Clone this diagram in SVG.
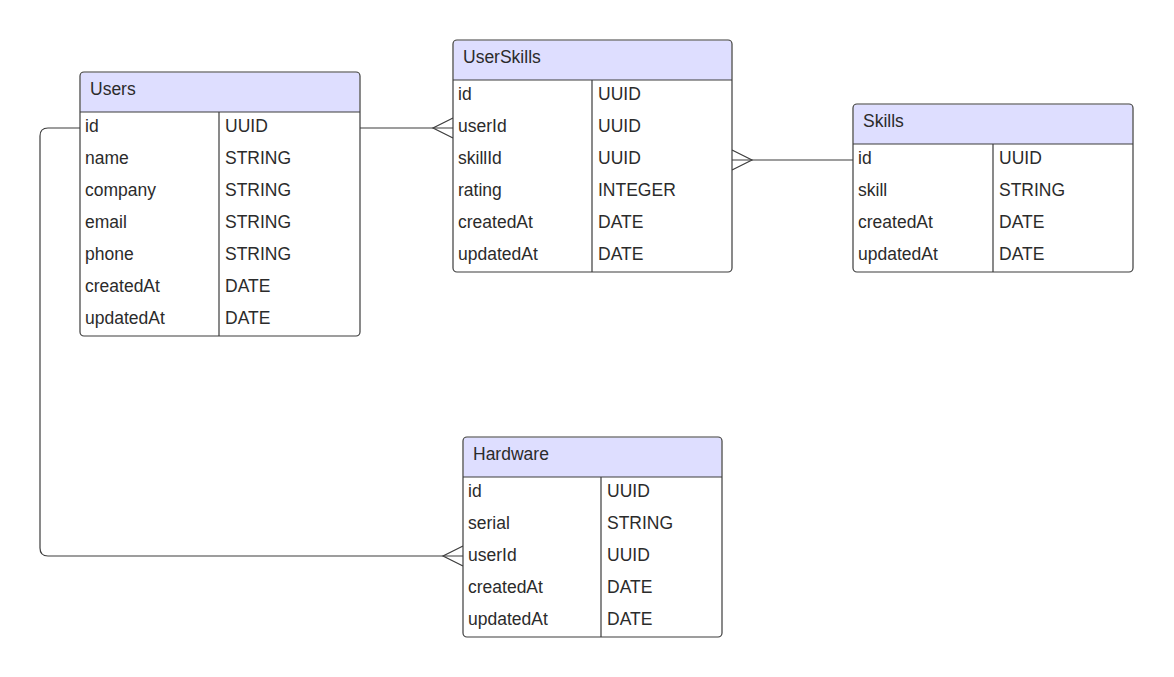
<svg xmlns="http://www.w3.org/2000/svg" width="1174" height="677" viewBox="0 0 1174 677">
  <style>
    .box { fill: none; stroke: #3d3d3d; stroke-width: 1.2; }
    .back { fill: #ffffff; }
    .head { fill: #dedeff; }
    .sep { stroke: #3d3d3d; stroke-width: 1.2; fill: none; }
    .title { font-family: "Liberation Sans", Arial, sans-serif; font-size: 17.5px; fill: #2b2b2b; }
    .cell { font-family: "Liberation Sans", Arial, sans-serif; font-size: 17.5px; fill: #2b2b2b; }
    .conn { stroke: #3d3d3d; stroke-width: 1.2; fill: none; }
  </style>
  <rect width="1174" height="677" fill="#ffffff"/>

  <!-- relationships -->
  <g id="connectors">
    <!-- Users.id to UserSkills.userId -->
    <path class="conn" d="M360 128 H453"/>
    <path class="conn" d="M453 118 L433 128 L453 138"/>
    <!-- Skills.id to UserSkills.skillId -->
    <path class="conn" d="M853 160 H732"/>
    <path class="conn" d="M732 150 L752 160 L732 170"/>
    <!-- Users.id to Hardware.userId -->
    <path class="conn" d="M80 128 H48 Q40 128 40 136 V548 Q40 556 48 556 H463"/>
    <path class="conn" d="M463 546 L443 556 L463 566"/>
  </g>

  <!-- Users -->
  <g id="users">
    <rect class="back" x="80" y="72" width="280" height="264" rx="4"/>
    <path class="head" d="M84 72.6 H356 Q359.4 72.6 359.4 76 V112 H80.6 V76 Q80.6 72.6 84 72.6 Z"/>
    <rect class="box" x="80" y="72" width="280" height="264" rx="4"/>
    <path class="sep" d="M80 112 H360 M219 112 V336"/>
    <text class="title" x="90" y="95">Users</text>
    <text class="cell" x="85" y="132">id</text><text class="cell" x="225" y="132">UUID</text>
    <text class="cell" x="85" y="164">name</text><text class="cell" x="225" y="164">STRING</text>
    <text class="cell" x="85" y="196">company</text><text class="cell" x="225" y="196">STRING</text>
    <text class="cell" x="85" y="228">email</text><text class="cell" x="225" y="228">STRING</text>
    <text class="cell" x="85" y="260">phone</text><text class="cell" x="225" y="260">STRING</text>
    <text class="cell" x="85" y="292">createdAt</text><text class="cell" x="225" y="292">DATE</text>
    <text class="cell" x="85" y="324">updatedAt</text><text class="cell" x="225" y="324">DATE</text>
  </g>

  <!-- UserSkills -->
  <g id="userskills">
    <rect class="back" x="453" y="40" width="279" height="232" rx="4"/>
    <path class="head" d="M457 40.6 H728 Q731.4 40.6 731.4 44 V80 H453.6 V44 Q453.6 40.6 457 40.6 Z"/>
    <rect class="box" x="453" y="40" width="279" height="232" rx="4"/>
    <path class="sep" d="M453 80 H732 M592 80 V272"/>
    <text class="title" x="463" y="63">UserSkills</text>
    <text class="cell" x="458" y="100">id</text><text class="cell" x="598" y="100">UUID</text>
    <text class="cell" x="458" y="132">userId</text><text class="cell" x="598" y="132">UUID</text>
    <text class="cell" x="458" y="164">skillId</text><text class="cell" x="598" y="164">UUID</text>
    <text class="cell" x="458" y="196">rating</text><text class="cell" x="598" y="196">INTEGER</text>
    <text class="cell" x="458" y="228">createdAt</text><text class="cell" x="598" y="228">DATE</text>
    <text class="cell" x="458" y="260">updatedAt</text><text class="cell" x="598" y="260">DATE</text>
  </g>

  <!-- Skills -->
  <g id="skills">
    <rect class="back" x="853" y="104" width="280" height="168" rx="4"/>
    <path class="head" d="M857 104.6 H1129 Q1132.4 104.6 1132.4 108 V144 H853.6 V108 Q853.6 104.6 857 104.6 Z"/>
    <rect class="box" x="853" y="104" width="280" height="168" rx="4"/>
    <path class="sep" d="M853 144 H1133 M993 144 V272"/>
    <text class="title" x="863" y="127">Skills</text>
    <text class="cell" x="858" y="164">id</text><text class="cell" x="999" y="164">UUID</text>
    <text class="cell" x="858" y="196">skill</text><text class="cell" x="999" y="196">STRING</text>
    <text class="cell" x="858" y="228">createdAt</text><text class="cell" x="999" y="228">DATE</text>
    <text class="cell" x="858" y="260">updatedAt</text><text class="cell" x="999" y="260">DATE</text>
  </g>

  <!-- Hardware -->
  <g id="hardware">
    <rect class="back" x="463" y="437" width="259" height="200" rx="4"/>
    <path class="head" d="M467 437.6 H718 Q721.4 437.6 721.4 441 V477 H463.6 V441 Q463.6 437.6 467 437.6 Z"/>
    <rect class="box" x="463" y="437" width="259" height="200" rx="4"/>
    <path class="sep" d="M463 477 H722 M601 477 V637"/>
    <text class="title" x="473" y="460">Hardware</text>
    <text class="cell" x="468" y="497">id</text><text class="cell" x="607" y="497">UUID</text>
    <text class="cell" x="468" y="529">serial</text><text class="cell" x="607" y="529">STRING</text>
    <text class="cell" x="468" y="561">userId</text><text class="cell" x="607" y="561">UUID</text>
    <text class="cell" x="468" y="593">createdAt</text><text class="cell" x="607" y="593">DATE</text>
    <text class="cell" x="468" y="625">updatedAt</text><text class="cell" x="607" y="625">DATE</text>
  </g>
</svg>
